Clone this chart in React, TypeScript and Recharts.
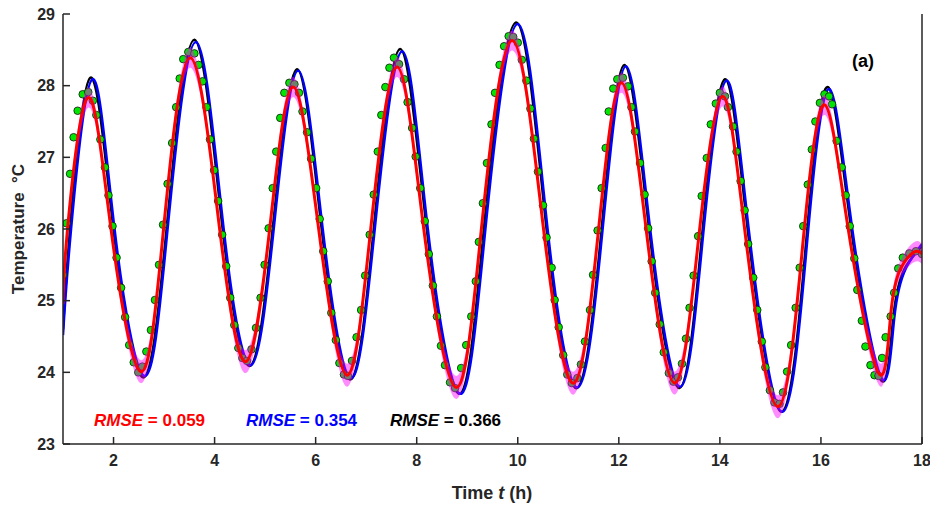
import { ComposedChart, XAxis, YAxis, Scatter, Line, Area } from "recharts"

// measured points (green dots)
const dotTime = [
  1.0, 1.07, 1.14, 1.21, 1.29, 1.39, 1.5, 1.59, 1.66, 1.74,
  1.83, 1.9, 1.98, 2.06, 2.15, 2.23, 2.31, 2.4, 2.49, 2.57,
  2.65, 2.74, 2.82, 2.9, 2.98, 3.07, 3.16, 3.24, 3.31, 3.38,
  3.48, 3.6, 3.68, 3.76, 3.84, 3.91, 3.99, 4.07, 4.15, 4.23,
  4.31, 4.39, 4.47, 4.55, 4.64, 4.73, 4.82, 4.91, 4.99, 5.07,
  5.15, 5.22, 5.3, 5.38, 5.48, 5.58, 5.67, 5.74, 5.83, 5.91,
  6.01, 6.08, 6.15, 6.24, 6.31, 6.4, 6.47, 6.56, 6.64, 6.72,
  6.81, 6.9, 6.98, 7.07, 7.15, 7.23, 7.3, 7.38, 7.46, 7.55,
  7.65, 7.75, 7.82, 7.91, 7.98, 8.07, 8.16, 8.24, 8.32, 8.4,
  8.48, 8.56, 8.66, 8.76, 8.88, 8.98, 9.08, 9.17, 9.23, 9.31,
  9.39, 9.48, 9.55, 9.64, 9.73, 9.82, 9.91, 10.0, 10.08, 10.17,
  10.25, 10.32, 10.4, 10.5, 10.57, 10.67, 10.73, 10.81, 10.9, 10.98,
  11.07, 11.18, 11.25, 11.33, 11.43, 11.49, 11.58, 11.66, 11.74, 11.8,
  11.89, 11.97, 12.08, 12.18, 12.25, 12.32, 12.42, 12.51, 12.58, 12.65,
  12.72, 12.81, 12.89, 12.99, 13.08, 13.17, 13.25, 13.33, 13.4, 13.48,
  13.57, 13.64, 13.74, 13.82, 13.92, 14.0, 14.1, 14.16, 14.26, 14.33,
  14.41, 14.49, 14.56, 14.66, 14.74, 14.83, 14.9, 14.99, 15.08, 15.18,
  15.25, 15.33, 15.41, 15.5, 15.58, 15.65, 15.74, 15.82, 15.89, 15.98,
  16.07, 16.16, 16.22, 16.31, 16.41, 16.49, 16.57, 16.66, 16.72, 16.81,
  16.88, 16.98, 17.06, 17.14, 17.21, 17.28, 17.38, 17.45, 17.53, 17.62,
  17.75, 17.88, 18.0,
]
const dotTemp = [
  25.36, 26.08, 26.77, 27.28, 27.65, 27.88, 27.91, 27.79, 27.59, 27.25,
  26.86, 26.47, 26.04, 25.6, 25.18, 24.77, 24.38, 24.14, 24.0, 24.08,
  24.29, 24.59, 25.01, 25.5, 26.06, 26.63, 27.2, 27.7, 28.1, 28.37,
  28.47, 28.45, 28.29, 28.06, 27.7, 27.25, 26.82, 26.39, 25.92, 25.48,
  25.04, 24.66, 24.34, 24.2, 24.16, 24.32, 24.62, 25.04, 25.5, 26.01,
  26.57, 27.08, 27.55, 27.9, 28.04, 28.02, 27.9, 27.64, 27.35, 26.98,
  26.57, 26.14, 25.69, 25.27, 24.83, 24.45, 24.13, 23.97, 23.95, 24.16,
  24.49, 24.87, 25.35, 25.92, 26.48, 27.08, 27.59, 27.98, 28.25, 28.39,
  28.3, 28.09, 27.77, 27.41, 27.01, 26.57, 26.11, 25.65, 25.21, 24.78,
  24.37, 24.1, 23.86, 23.78, 24.06, 24.38, 24.78, 25.27, 25.82, 26.36,
  26.92, 27.46, 27.9, 28.29, 28.55, 28.69, 28.68, 28.6, 28.36, 28.07,
  27.68, 27.26, 26.8, 26.33, 25.88, 25.46, 25.01, 24.63, 24.24, 23.97,
  23.85, 23.92, 24.11, 24.43, 24.87, 25.36, 25.98, 26.57, 27.13, 27.64,
  27.96, 28.09, 28.11, 27.99, 27.7, 27.36, 26.92, 26.48, 26.01, 25.55,
  25.11, 24.67, 24.28, 23.99, 23.87, 23.93, 24.12, 24.47, 24.9, 25.35,
  25.9, 26.46, 26.99, 27.46, 27.75, 27.9, 27.85, 27.7, 27.43, 27.08,
  26.67, 26.26, 25.79, 25.32, 24.87, 24.43, 24.07, 23.75, 23.58, 23.56,
  23.72, 24.01, 24.38, 24.9, 25.46, 26.04, 26.62, 27.11, 27.5, 27.76,
  27.88, 27.85, 27.74, 27.23, 26.86, 26.47, 26.04, 25.59, 25.15, 24.72,
  24.36, 24.1, 23.96, 23.95, 24.2, 24.49, 24.78, 25.11, 25.45, 25.6,
  25.66, 25.69, 25.65,
]

// red model (RMSE 0.059) + its uncertainty half-width
const redTime = [
  1.0, 1.09, 1.49, 1.95, 2.54, 2.99, 3.52, 4.1, 4.62, 5.09,
  5.55, 6.06, 6.62, 7.09, 7.61, 8.14, 8.78, 9.28, 9.89, 10.51,
  11.11, 11.6, 12.05, 12.54, 13.11, 13.6, 14.05, 14.49, 15.15, 15.67,
  16.08, 16.54, 17.14, 17.38, 17.58, 17.85, 18.0,
]
const redTemp = [
  24.95, 26.0, 27.83, 26.0, 24.01, 26.0, 28.39, 26.0, 24.15, 26.0,
  27.98, 26.0, 23.96, 26.0, 28.26, 26.0, 23.79, 26.0, 28.63, 26.0,
  23.85, 26.0, 28.04, 26.0, 23.85, 26.0, 27.85, 26.0, 23.52, 26.0,
  27.73, 26.0, 23.99, 24.8, 25.45, 25.68, 25.65,
]
const bandHalf = [
  0.08, 0.08, 0.14, 0.08, 0.16, 0.08, 0.14, 0.08, 0.16, 0.08,
  0.14, 0.08, 0.16, 0.08, 0.14, 0.08, 0.16, 0.08, 0.14, 0.08,
  0.16, 0.08, 0.14, 0.08, 0.16, 0.08, 0.14, 0.08, 0.16, 0.08,
  0.14, 0.08, 0.16, 0.1, 0.12, 0.14, 0.14,
]

// blue model (RMSE 0.354)
const blueTime = [
  1.0, 1.16, 1.58, 2.02, 2.61, 3.07, 3.63, 4.18, 4.72, 5.17,
  5.65, 6.14, 6.7, 7.17, 7.71, 8.22, 8.86, 9.36, 10.0, 10.59,
  11.19, 11.68, 12.14, 12.62, 13.22, 13.68, 14.13, 14.57, 15.24, 15.75,
  16.17, 16.62, 17.2, 17.45, 17.68, 18.0,
]
const blueTemp = [
  24.52, 26.0, 28.09, 26.0, 23.95, 26.0, 28.61, 26.0, 24.1, 26.0,
  28.21, 26.0, 23.92, 26.0, 28.48, 26.0, 23.7, 26.0, 28.86, 26.0,
  23.79, 26.0, 28.27, 26.0, 23.8, 26.0, 28.07, 26.0, 23.45, 26.0,
  27.95, 26.0, 23.92, 24.75, 25.45, 25.79,
]

// black model (RMSE 0.366)
const blackTime = [
  1.0, 1.14, 1.54, 2.0, 2.58, 3.05, 3.6, 4.16, 4.7, 5.15,
  5.63, 6.12, 6.68, 7.15, 7.67, 8.2, 8.84, 9.33, 9.97, 10.57,
  11.17, 11.66, 12.11, 12.6, 13.2, 13.66, 14.1, 14.55, 15.22, 15.73,
  16.14, 16.6, 17.18, 17.43, 17.66, 18.0,
]
const blackTemp = [
  24.6, 26.0, 28.11, 26.0, 23.93, 26.0, 28.64, 26.0, 24.09, 26.0,
  28.23, 26.0, 23.9, 26.0, 28.51, 26.0, 23.7, 26.0, 28.88, 26.0,
  23.78, 26.0, 28.29, 26.0, 23.78, 26.0, 28.09, 26.0, 23.45, 26.0,
  27.98, 26.0, 23.9, 24.75, 25.45, 25.76,
]

const xTicks = [2, 4, 6, 8, 10, 12, 14, 16, 18]
const yTicks = [23, 24, 25, 26, 27, 28, 29]

const dots = dotTime.map((t, i) => ({ t, v: dotTemp[i] }))
const red = redTime.map((t, i) => ({ t, v: redTemp[i] }))
const band = redTime.map((t, i) => ({ t, range: [redTemp[i] - bandHalf[i], redTemp[i] + bandHalf[i]] }))
const blue = blueTime.map((t, i) => ({ t, v: blueTemp[i] }))
const black = blackTime.map((t, i) => ({ t, v: blackTemp[i] }))

const font = "'Liberation Sans', Arial, sans-serif"
const ink = "#262626"
const tickStyle = { fill: ink, fontSize: 16, fontWeight: 700, fontFamily: font }
const axisLine = { stroke: ink, strokeWidth: 1.5 }
const none = () => ""

const Dot = (p: any) => <circle cx={p.cx} cy={p.cy} r={3.8} fill="#00e600" stroke="#111" strokeWidth={0.8} />

export default function App() {
  return (
    <div style={{ position: "absolute", left: 0, top: 0, width: 930, height: 508, background: "#fff" }}>
      <ComposedChart width={930} height={508} margin={{ top: 14, right: 0, bottom: 20, left: 18 }}>
        <XAxis type="number" dataKey="t" domain={[1, 18]} ticks={xTicks} allowDataOverflow height={44}
          axisLine={axisLine} tickLine={axisLine} tickSize={-7} tickMargin={18} tick={tickStyle} />
        <XAxis xAxisId="top" orientation="top" type="number" dataKey="t" domain={[1, 18]} ticks={xTicks} height={0}
          axisLine={axisLine} tickLine={axisLine} tickSize={-7} tickFormatter={none} />
        <YAxis domain={[23, 29]} ticks={yTicks} allowDataOverflow width={45}
          axisLine={axisLine} tickLine={axisLine} tickSize={-7} tickMargin={15} tick={tickStyle} />
        <YAxis yAxisId="right" orientation="right" domain={[23, 29]} ticks={yTicks} width={8}
          axisLine={axisLine} tickLine={axisLine} tickSize={-7} tickFormatter={none} />

        <Line data={black} dataKey="v" type="natural" stroke="#000" strokeWidth={2.5} dot={false}
          zIndex={40} isAnimationActive={false} />
        <Line data={blue} dataKey="v" type="natural" stroke="#0000ff" strokeWidth={2.5} dot={false}
          zIndex={45} isAnimationActive={false} />
        <Scatter data={dots} dataKey="v" shape={Dot} zIndex={50} isAnimationActive={false} />
        <Area data={band} dataKey="range" type="natural" stroke="none" fill="#ff00ff" fillOpacity={0.45}
          zIndex={100} isAnimationActive={false} />
        <Line data={red} dataKey="v" type="natural" stroke="#ff0000" strokeWidth={3} dot={false}
          zIndex={420} isAnimationActive={false} />
      </ComposedChart>

      <svg width={930} height={508} style={{ position: "absolute", left: 0, top: 0, pointerEvents: "none" }}
        fontFamily={font} fontWeight={700}>
        <text transform="translate(24,229) rotate(-90)" textAnchor="middle" fontSize={17} fill={ink}>
          Temperature{"\u00a0\u00a0"}°C
        </text>
        <text x={492} y={499} textAnchor="middle" fontSize={18} fill={ink}>
          Time <tspan fontStyle="italic">t</tspan> (h)
        </text>
        <text x={94} y={426} fontSize={17} fill="#ff0000">
          <tspan fontStyle="italic">RMSE</tspan> = 0.059
        </text>
        <text x={246} y={426} fontSize={17} fill="#0000ff">
          <tspan fontStyle="italic">RMSE</tspan> = 0.354
        </text>
        <text x={390} y={426} fontSize={17} fill="#000">
          <tspan fontStyle="italic">RMSE</tspan> = 0.366
        </text>
        <text x={852} y={67} fontSize={18} fill="#000">(a)</text>
      </svg>
    </div>
  )
}
